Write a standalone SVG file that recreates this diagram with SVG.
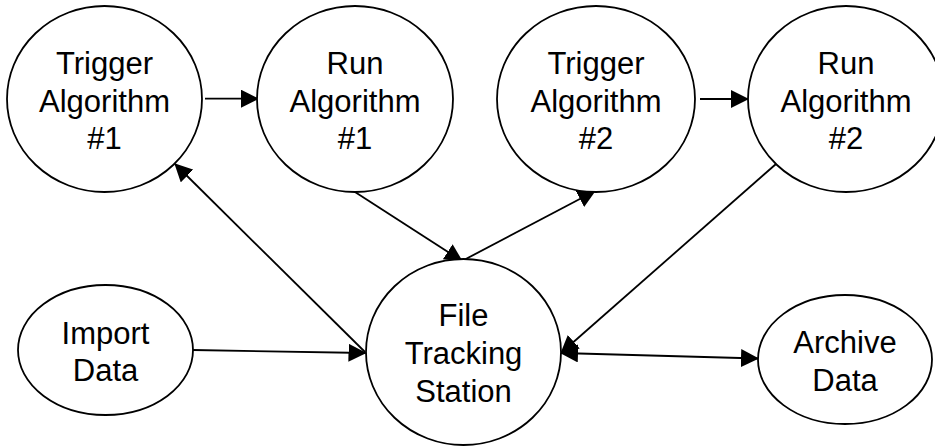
<svg xmlns="http://www.w3.org/2000/svg" width="935" height="446" viewBox="0 0 935 446">
<style>
.node{fill:#fff;stroke:#000;stroke-width:1.8}
.lbl{font-family:"Liberation Sans",Arial,sans-serif;font-size:31px;fill:#000;text-anchor:middle}
.edge{stroke:#000;stroke-width:1.8;fill:none}
</style>
<defs>
<marker id="ah" viewBox="0 0 18 18" refX="17" refY="9" markerWidth="18" markerHeight="18" markerUnits="userSpaceOnUse" orient="auto-start-reverse">
<path d="M0,0 L18,9 L0,18 z" fill="#000"/>
</marker>
</defs>
<rect width="935" height="446" fill="#fff"/>
<g id="connectors">
<line class="edge" x1="205" y1="98.7" x2="258" y2="98.7" marker-end="url(#ah)"/>
<line class="edge" x1="700" y1="99" x2="748" y2="99" marker-end="url(#ah)"/>
<line class="edge" x1="365" y1="352" x2="175" y2="164" marker-end="url(#ah)"/>
<line class="edge" x1="355" y1="192" x2="462" y2="261" marker-end="url(#ah)"/>
<line class="edge" x1="462" y1="261" x2="595" y2="191" marker-end="url(#ah)"/>
<line class="edge" x1="776" y1="164" x2="561" y2="353" marker-end="url(#ah)"/>
<line class="edge" x1="561" y1="353" x2="758" y2="358.5" marker-start="url(#ah)" marker-end="url(#ah)"/>
<line class="edge" x1="193" y1="350" x2="365.5" y2="353" marker-end="url(#ah)"/>
</g>
<g id="trigger1">
<ellipse class="node" cx="104.5" cy="99" rx="97.5" ry="93"/>
<text class="lbl" x="104.5" y="74">Trigger</text>
<text class="lbl" x="104.5" y="111.5">Algorithm</text>
<text class="lbl" x="104.5" y="148.5">#1</text>
</g>
<g id="run1">
<ellipse class="node" cx="355" cy="99" rx="98" ry="93"/>
<text class="lbl" x="355" y="74">Run</text>
<text class="lbl" x="355" y="111.5">Algorithm</text>
<text class="lbl" x="355" y="148.5">#1</text>
</g>
<g id="trigger2">
<ellipse class="node" cx="596" cy="99" rx="99" ry="93"/>
<text class="lbl" x="596" y="74">Trigger</text>
<text class="lbl" x="596" y="111.5">Algorithm</text>
<text class="lbl" x="596" y="148.5">#2</text>
</g>
<g id="run2">
<ellipse class="node" cx="846" cy="99" rx="98" ry="93"/>
<text class="lbl" x="846" y="74">Run</text>
<text class="lbl" x="846" y="111.5">Algorithm</text>
<text class="lbl" x="846" y="148.5">#2</text>
</g>
<g id="import">
<ellipse class="node" cx="105.5" cy="350" rx="87.5" ry="65"/>
<text class="lbl" x="105.5" y="344">Import</text>
<text class="lbl" x="105.5" y="380.5">Data</text>
</g>
<g id="fts">
<ellipse class="node" cx="463.5" cy="352" rx="97.5" ry="93"/>
<text class="lbl" x="463.5" y="326">File</text>
<text class="lbl" x="463.5" y="364">Tracking</text>
<text class="lbl" x="463.5" y="402">Station</text>
</g>
<g id="archive">
<ellipse class="node" cx="845" cy="359.5" rx="87" ry="64.5"/>
<text class="lbl" x="845" y="353">Archive</text>
<text class="lbl" x="845" y="391">Data</text>
</g>
</svg>
